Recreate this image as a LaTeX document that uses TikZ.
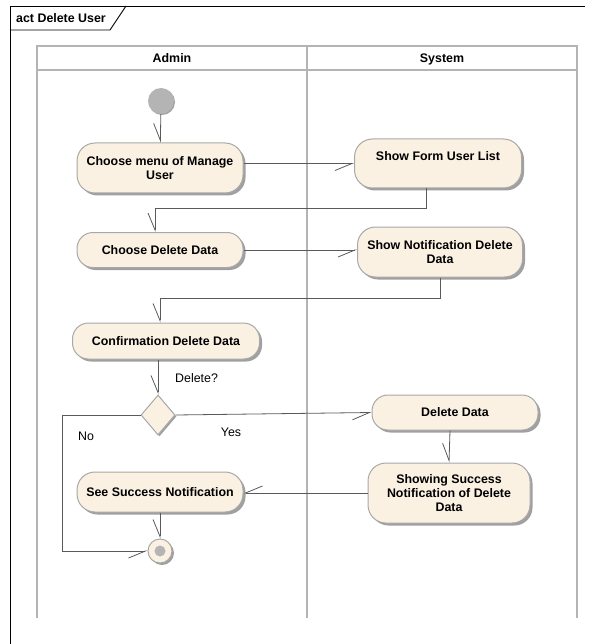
\documentclass[tikz,border=0pt]{standalone}
\usepackage{fontspec}
\setmainfont{Liberation Sans}
\usepackage{tikz}
\usetikzlibrary{arrows.meta,shapes,positioning,shadows}
\usepackage{xcolor}
\definecolor{eacream}{RGB}{251,241,227}
\definecolor{eaborder}{RGB}{168,168,168}
\definecolor{eashadow}{RGB}{160,160,160}
\definecolor{ealane}{RGB}{180,180,180}
\definecolor{ealine}{RGB}{90,90,90}
\tikzstyle{flow} = [draw=ealine, line width=0.8pt, -{Straight Barb[harpoon,swap,length=17pt,width=14pt]}]
\tikzstyle{action} = [rectangle, rounded corners=16pt, draw=eaborder, fill=eacream, line width=1pt, inner sep=0pt, minimum width=166pt, minimum height=35pt, align=center, font=\bfseries\fontsize{12.4}{14.4}\selectfont, drop shadow={shadow xshift=2.5pt, shadow yshift=-2.5pt, fill=eashadow, opacity=1}]
\tikzstyle{lane} = [draw=ealane, line width=1.6pt]
\tikzstyle{guard} = [inner sep=0pt, font=\fontsize{12.4}{14.4}\selectfont]

\begin{document}
\begin{tikzpicture}[x=1pt, y=-1pt]
\useasboundingbox (0,0) rectangle (594,644);
% Frame and tab
\draw[line width=0.9pt] (585,6) -- (10,6) -- (10,644);
\draw[line width=0.9pt] (10,30) -- (110,30) -- (126,6);
\node (title) [anchor=west, inner sep=2pt, font=\bfseries\fontsize{12.4}{14.4}\selectfont] at (14,18) {act Delete User};

% Swimlanes
\draw[lane] (37,618) -- (37,46) -- (577,46) -- (577,618);
\draw[lane] (307,46) -- (307,618);
\draw[lane] (37,70) -- (577,70);
\node (admin) [anchor=base, inner sep=0pt, font=\bfseries\fontsize{12.4}{14.4}\selectfont] at (172,62.5) {Admin};
\node (system) [anchor=base, inner sep=0pt, font=\bfseries\fontsize{12.4}{14.4}\selectfont] at (442,62.5) {System};

% Start and end
\node (start) [circle, minimum size=26pt, inner sep=0pt, fill=ealane, drop shadow={shadow xshift=1pt, shadow yshift=-1pt, fill=eashadow, opacity=1}] at (161,101) {};
\node (final) [circle, minimum size=24pt, inner sep=0pt, draw=eaborder, line width=1pt, fill=eacream, drop shadow={shadow xshift=2pt, shadow yshift=-2pt, fill=eashadow, opacity=1}] at (160,551) {};
\fill[ealane] (final.center) circle (5.5);

% Actions
\node (cmenu) [action, minimum height=50pt, rounded corners=18pt] at (160,168) {Choose menu of Manage\\User};
\node (sfl) [action, minimum width=167pt, minimum height=49pt, rounded corners=18pt] at (438,163.5) {Show Form User List\\\mbox{}};
\node (cdd) [action] at (160,250) {Choose Delete Data};
\node (snd) [action, minimum width=165pt, minimum height=50pt, rounded corners=18pt] at (440,252) {Show Notification Delete\\Data};
\node (conf) [action, minimum width=187pt, minimum height=36pt] at (166,341) {Confirmation Delete Data};
\node (dia) [diamond, minimum width=34pt, minimum height=40pt, inner sep=0pt, draw=eaborder, line width=1pt, fill=eacream, drop shadow={shadow xshift=1.5pt, shadow yshift=-1.5pt, fill=eashadow, opacity=1}] at (158,415) {};
\node (deldata) [action] at (455,412.5) {Delete Data};
\node (showsucc) [action, minimum width=162pt, minimum height=60pt, rounded corners=18pt] at (449,493) {Showing Success\\Notification of Delete\\Data};
\node (seesucc) [action, minimum height=40pt, rounded corners=18pt] at (160,492) {See Success Notification};

% Guards
\node (qdel) [guard, anchor=west] at (175,378) {Delete?};
\node (qyes) [guard] at (231,432) {Yes};
\node (qno) [guard] at (86,436) {No};

% Flows
\coordinate (nobend) at (62,551);
\draw[flow] (start) -- (cmenu);
\draw[flow] (sfl.west -| cmenu.east) -- (sfl.west);
\draw[flow] ([xshift=-12pt]sfl.south) -- ++(0,20) -| ([xshift=-5pt]cdd.north);
\draw[flow] (cdd.east) -- (cdd.east -| snd.west);
\draw[flow] (snd.south) -- ++(0,21) -| ([xshift=-6pt]conf.north);
\draw[flow] ([xshift=-8pt]conf.south) -- (dia.north);
\draw[flow] (dia.east) -- (deldata.west);
\draw[flow] (dia.west) -| (nobend) -- (final.west);
\draw[flow] ([xshift=-5pt]deldata.south) -- (showsucc.north);
\draw[flow] (showsucc.west) -- (showsucc.west -| seesucc.east);
\draw[flow] (seesucc.south) -- (final.north);
\end{tikzpicture}
\end{document}
